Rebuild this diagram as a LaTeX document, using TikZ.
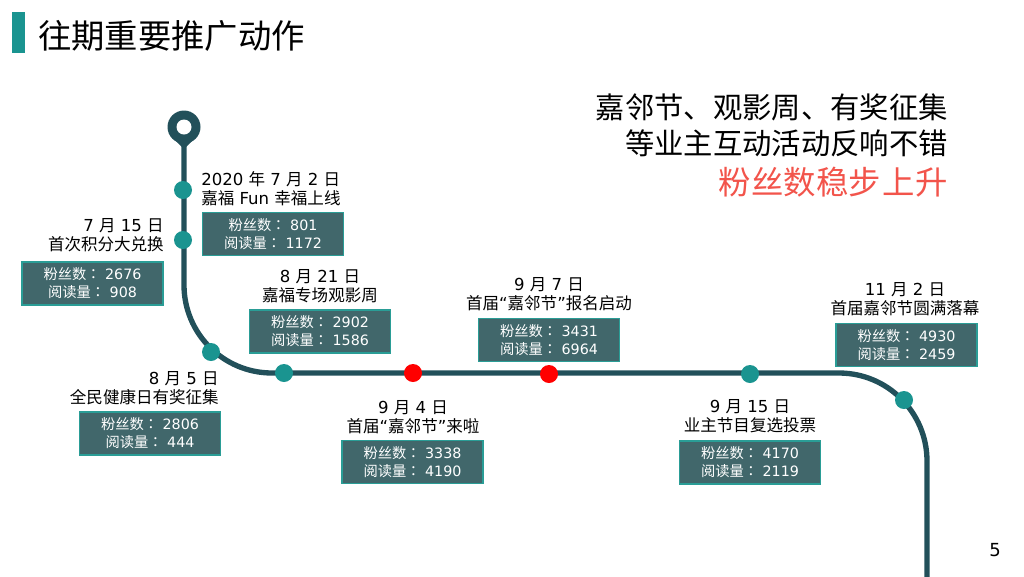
\documentclass[tikz,border=0pt]{standalone}
\usepackage{fontspec}
\setmainfont{DejaVu Sans}
\newfontfamily\cj{Noto Sans CJK SC}
\newfontfamily\cjtc{Noto Sans CJK TC}
\newcommand\fans{{\cj 粉丝数}{\cjtc ：} }
\newcommand\reads{{\cj 阅读量}{\cjtc ：} }
\definecolor{trackcol}{HTML}{22505A}
\definecolor{dotcol}{HTML}{1A9490}
\definecolor{boxfill}{HTML}{41676B}
\definecolor{boxedge}{HTML}{2A9D96}
\definecolor{hilite}{HTML}{F2544B}
\begin{document}
\begin{tikzpicture}[x=0.75pt,y=-0.75pt,
  tdot/.style={circle,fill=dotcol,inner sep=0pt,minimum size=13.5pt},
  rdot/.style={circle,fill=red,inner sep=0pt,minimum size=13.5pt},
  statbox/.style={draw=boxedge,line width=0.8pt,fill=boxfill,text=white,align=center,
    minimum width=105.75pt,minimum height=32.25pt,inner sep=0pt,
    font={\fontsize{10.7}{13.5}\selectfont}},
  lbl/.style={inner sep=0pt,font={\fontsize{12.4}{14.2}\selectfont}},
  summ/.style={anchor=east,inner sep=0pt,font={\cj\fontsize{22}{26}\selectfont}}
]
\useasboundingbox (0,0) rectangle (1024,576);
% title
\fill[dotcol] (12,12) rectangle (25,53);
\node[anchor=west,inner sep=0pt,font={\cj\fontsize{25}{30}\selectfont}] (title) at (38,36) {往期重要推广动作};
% track
\begin{scope}
\clip (0,0) rectangle (1024,576);
\draw[trackcol,line width=4pt,rounded corners=66pt] (184,146) -- (184,373) -- (927,373) -- (927,590);
\end{scope}
% pin
\fill[trackcol] (184,127) circle[radius=16.5];
\fill[trackcol] (184,149) -- (173.8,139) -- (194.2,139) -- cycle;
\fill[white] (184,127) circle[radius=7.5];
% dots
\node[tdot] (d1) at (183,190) {};
\node[tdot] (d2) at (183,240) {};
\node[tdot] (d3) at (211,352) {};
\node[tdot] (d4) at (284,373) {};
\node[rdot] (d5) at (413,373) {};
\node[rdot] (d6) at (549,374) {};
\node[tdot] (d7) at (750,374) {};
\node[tdot] (d8) at (904,400) {};
% labels
\node[lbl,anchor=west,align=left] (l1) at (201,189) {2020 {\cj 年} 7 {\cj 月} 2 {\cj 日}\\{\cj 嘉福} Fun {\cj 幸福上线}};
\node[lbl,anchor=east,align=right] (l2) at (164,235) {7 {\cj 月} 15 {\cj 日}\\{\cj 首次积分大兑换}};
\node[lbl,anchor=east,align=right] (l3) at (219,388.5) {8 {\cj 月} 5 {\cj 日}\\{\cj 全民健康日有奖征集}};
\node[lbl,align=center] (l4) at (320,286) {8 {\cj 月} 21 {\cj 日}\\{\cj 嘉福专场观影周}};
\node[lbl,align=center] (l5) at (549,294.5) {9 {\cj 月} 7 {\cj 日}\\{\cj 首届}“{\cj 嘉邻节}”{\cj 报名启动}};
\node[lbl,align=center] (l6) at (413,417) {9 {\cj 月} 4 {\cj 日}\\{\cj 首届}“{\cj 嘉邻节}”{\cj 来啦}};
\node[lbl,align=center] (l7) at (750,416.5) {9 {\cj 月} 15 {\cj 日}\\{\cj 业主节目复选投票}};
\node[lbl,align=center] (l8) at (905,299.5) {11 {\cj 月} 2 {\cj 日}\\{\cj 首届嘉邻节圆满落幕}};
% stat boxes
\node[statbox] (b1) at (273,234) {\fans 801\\\reads 1172};
\node[statbox] (b2) at (92.5,283.5) {\fans 2676\\\reads 908};
\node[statbox] (b3) at (150,433.5) {\fans 2806\\\reads 444};
\node[statbox] (b4) at (320,331.5) {\fans 2902\\\reads 1586};
\node[statbox] (b5) at (549,340) {\fans 3431\\\reads 6964};
\node[statbox] (b6) at (412.5,462) {\fans 3338\\\reads 4190};
\node[statbox] (b7) at (750,462.5) {\fans 4170\\\reads 2119};
\node[statbox] (b8) at (906.5,345) {\fans 4930\\\reads 2459};
% right summary
\node[summ] (s1) at (948,107) {嘉邻节、观影周、有奖征集};
\node[summ] (s2) at (948,143) {等业主互动活动反响不错};
\node[summ,text=hilite,font={\cj\fontsize{24.3}{28}\selectfont}] (s3) at (948,182) {粉丝数稳步\hspace{1.5pt}上升};
% page number
\node[inner sep=0pt,font={\fontsize{13.5}{16}\selectfont}] (pg) at (995,550) {5};
\end{tikzpicture}
\end{document}
